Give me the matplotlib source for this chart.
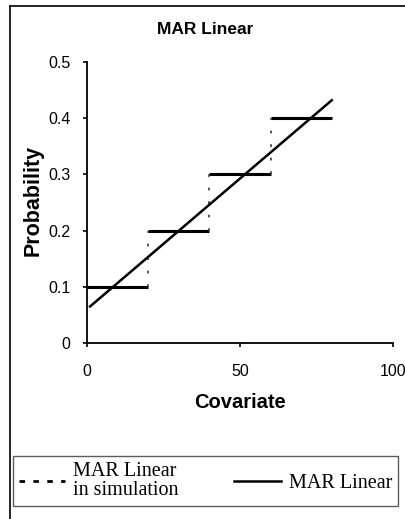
import matplotlib
matplotlib.use("Agg")
import matplotlib.pyplot as plt
from matplotlib.lines import Line2D

# Data
step_edges = [0, 20, 40, 60, 80]
step_levels = [0.1, 0.2, 0.3, 0.4]
lin_x = [1, 80]
lin_y = [0.065, 0.432]
xticks = [0, 50, 100]
yticks = [0, 0.1, 0.2, 0.3, 0.4, 0.5]
ytick_labels = ["0", "0.1", "0.2", "0.3", "0.4", "0.5"]
title = "MAR Linear"
xlabel = "Covariate"
ylabel = "Probability"
leg_sim = "MAR Linear\nin simulation"
leg_lin = "MAR Linear"

W, H = 406, 519
fig = plt.figure(figsize=(W / 100, H / 100), dpi=100)
fig.patch.set_facecolor("white")

ax = fig.add_axes([87 / W, 1 - 343 / H, (393 - 87) / W, (343 - 62) / H])
ax.hlines(step_levels, step_edges[:-1], step_edges[1:], color="black", lw=2.2)
ax.vlines(step_edges[1:-1], step_levels[:-1], step_levels[1:], color="#444444",
          lw=1.3, linestyles=[(0, (1.5, 6))])
h2, = ax.plot(lin_x, lin_y, color="black", lw=1.8, label=leg_lin)
h1 = Line2D([], [], color="black", lw=2.0, linestyle=(0, (2, 3)), label=leg_sim)

ax.set_xlim(0, 100)
ax.set_ylim(0, 0.5)
ax.set_xticks(xticks)
ax.set_yticks(yticks)
ax.set_yticklabels(ytick_labels)
for s in ["top", "right"]:
    ax.spines[s].set_visible(False)
for s in ["left", "bottom"]:
    ax.spines[s].set_linewidth(1.3)
ax.tick_params(axis="both", direction="out", length=3, width=1.2,
               labelsize=11.5)
ax.tick_params(axis="y", pad=9)
ax.tick_params(axis="x", pad=12)
for lab in ax.get_xticklabels() + ax.get_yticklabels():
    lab.set_family("Liberation Sans")

fig.text(205 / W, 1 - 30 / H, title, ha="center", va="center",
         fontsize=12.5, fontweight="bold", family="Liberation Sans")
fig.text(240 / W, 1 - 403 / H, xlabel, ha="center", va="center",
         fontsize=14.5, fontweight="bold", family="Liberation Sans")
fig.text(33 / W, 1 - 200 / H, ylabel, ha="center", va="center",
         rotation=90, fontsize=15.5, fontweight="bold",
         family="Liberation Sans")

# outer chart border (left and top)
fig.add_artist(Line2D([10 / W, 10 / W], [0, 1 - 6 / H], color="black", lw=1.2))
fig.add_artist(Line2D([10 / W, 1], [1 - 6 / H, 1 - 6 / H], color="black", lw=1.2))

leg = fig.legend(handles=[h1, h2], loc="center", ncol=2,
                 bbox_to_anchor=(13 / W, 1 - 517 / H, (398 - 13) / W, (517 - 445) / H),
                 mode="expand", frameon=True, fancybox=False,
                 prop={"family": "Liberation Serif", "size": 14.5},
                 handlelength=2.3, handletextpad=0.4, borderaxespad=0,
                 columnspacing=0.5, borderpad=0.3, labelspacing=0.2)
leg.get_frame().set_edgecolor("#333333")
leg.get_frame().set_linewidth(1.0)
for t in leg.get_texts():
    t.set_linespacing(1.0)

fig.savefig("out.png", dpi=100)
